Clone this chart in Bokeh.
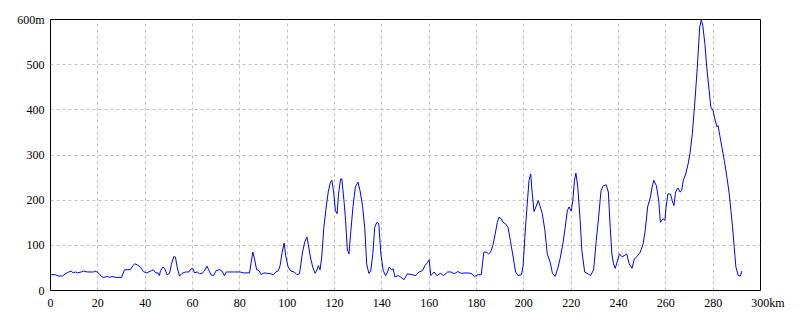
from bokeh.plotting import figure
from bokeh.models import Range1d, FixedTicker
from bokeh.embed import file_html
from bokeh.resources import INLINE

km = [0, 2, 3.5, 5, 6.3, 7.7, 8.7, 9.6, 10.6, 11.5, 13, 14, 15.5, 18.3, 18.7, 19.7,
      20.6, 21.5, 22.5, 24, 25, 26, 27.5, 30, 31.3, 32.4, 33.8, 34.8, 35.6, 36.6, 38,
      39.2, 40.6, 41.5, 42.7, 43.4, 44.4, 45.4, 46, 46.5, 47.5, 48.3, 49.3, 50.3, 51.1,
      52.1, 52.8, 53.5, 54.5, 55.6, 57, 58.5, 59.4, 60.3, 60.8, 62, 63, 64, 65, 66.1,
      66.8, 67.8, 68.9, 70, 71.5, 72.5, 73.5, 74.3, 75.7, 77.4, 80, 81.7, 84.1, 84.8,
      85.5, 86.2, 87.1, 88.1, 89.1, 90.2, 91.6, 93, 94.2, 95.2, 96.3, 97, 97.9, 98.7,
      99.4, 100.4, 101.6, 103, 104.1, 105.2, 105.8, 106.5, 107.5, 108.4, 108.9, 109.8,
      110.8, 111.8, 112.6, 113.2, 113.9, 114.6, 115.5, 116.5, 117.4, 118.3, 118.9,
      119.7, 120.4, 121.1, 121.7, 122.6, 123.1, 124, 124.7, 125.4, 126.1, 126.8, 127.8,
      128.8, 129.9, 130.8, 131.9, 132.8, 133.6, 134.5, 135.3, 136.2, 137, 137.9, 138.7,
      139.6, 140.6, 141.6, 142.4, 143.1, 144.1, 144.8, 145.5, 146.9, 147.9, 149.4,
      150.8, 152.9, 154.3, 155.7, 157.2, 158.2, 159.3, 160, 160.7, 162.1, 163.3, 164.7,
      166.1, 167.8, 169.2, 170.6, 172.1, 173.5, 175.6, 177.7, 179.1, 180.6, 182, 183.1,
      184.1, 185.1, 186, 186.9, 187.9, 188.8, 189.5, 190.5, 191.2, 192.2, 193.3, 194.3,
      195.5, 196.5, 197.6, 199, 199.7, 200.7, 201.5, 202.2, 202.9, 203.5, 204.3, 205.1,
      206.1, 206.8, 207.8, 208.9, 209.9, 211.1, 212.1, 213.2, 214.3, 215.3, 216.5,
      217.4, 218.4, 219.1, 220, 220.7, 221.4, 222, 222.8, 223.8, 224.5, 225.7, 227.1,
      228.2, 229.5, 230.6, 231.6, 232.6, 233.6, 234.8, 235.7, 236.5, 237.2, 237.9,
      238.6, 239.6, 240.4, 241.4, 242.4, 243.5, 244.5, 245.7, 246.7, 247.8, 249.2,
      250.4, 251.3, 252.3, 253.5, 254.2, 254.9, 256, 257, 257.7, 258.9, 259.6, 260.1,
      260.9, 262, 262.7, 263.4, 264.1, 265.1, 266, 266.7, 267.4, 268.4, 269.4, 270.2,
      271.2, 272.2, 273.3, 274.3, 275, 275.6, 276.5, 277.3, 278.3, 279, 279.9, 280.7,
      281.6, 282.1, 282.8, 283.7, 284.7, 285.8, 286.8, 287.5, 288.2, 288.9, 289.6,
      290.6, 291.5, 292.1]
elev = [35, 35, 32, 32, 37, 41, 43, 39, 41, 39, 41, 43, 41, 41, 43, 41,
        37, 31, 29, 31, 29, 31, 29, 29, 46, 46, 46, 55, 59, 57, 52,
        42, 39, 41, 44, 46, 39, 39, 33, 44, 52, 48, 35, 38, 58,
        75, 74, 52, 32, 38, 41, 41, 48, 48, 39, 41, 37, 38, 43, 54,
        46, 35, 33, 44, 46, 43, 33, 41, 41, 41, 41, 39, 39, 63,
        85, 70, 46, 44, 35, 39, 38, 37, 35, 41, 44, 55, 85, 105,
        77, 52, 43, 41, 35, 37, 59, 85, 109, 118, 103, 74,
        52, 38, 46, 55, 46, 74, 140, 185, 220, 240, 244,
        215, 177, 170, 214, 247, 247, 199, 155, 92, 81, 125, 185,
        229, 240, 221, 185, 137, 59, 38, 43, 81, 140, 151, 148,
        81, 44, 33, 41, 52, 46, 48, 30, 33, 30, 24,
        37, 35, 33, 41, 44, 55, 62, 68, 33, 41, 33, 38,
        33, 41, 41, 37, 42, 38, 39, 38, 31, 35, 35, 85,
        85, 81, 85, 100, 125, 151, 162, 159, 151, 148, 140, 111,
        74, 41, 33, 35, 55, 140, 196, 244, 258, 218, 175, 185,
        199, 188, 170, 133, 81, 63, 38, 31, 48, 70, 103,
        137, 177, 185, 176, 199, 244, 260, 229, 155, 89, 41, 37,
        33, 46, 111, 162, 221, 232, 234, 218, 140, 81, 59,
        49, 66, 81, 75, 77, 81, 59, 49, 70, 75, 85,
        103, 133, 185, 207, 229, 244, 232, 199, 151, 159, 155, 185,
        214, 213, 199, 188, 218, 227, 218, 221, 244, 258, 280, 303,
        347, 413, 494, 583, 599, 587, 546, 494, 443, 406, 399, 380,
        362, 365, 343, 317, 288, 251, 214, 177, 140, 96, 52,
        33, 32, 43]

xtick_values = [0, 20, 40, 60, 80, 100, 120, 140, 160, 180, 200, 220, 240, 260, 280, 300]
xtick_labels = ["0", "20", "40", "60", "80", "100", "120", "140", "160", "180", "200",
                "220", "240", "260", "280", "300km"]
ytick_values = [0, 100, 200, 300, 400, 500, 600]
ytick_labels = ["0", "100", "200", "300", "400", "500", "600m"]

FONT = "Liberation Sans Narrow"

p = figure(width=800, height=320, output_backend="svg", toolbar_location=None,
           x_range=Range1d(0, 300), y_range=Range1d(0, 600),
           min_border_left=50, min_border_right=40, min_border_top=19,
           min_border_bottom=30)
p.background_fill_color = "white"
p.border_fill_color = "white"
p.outline_line_color = "black"
p.outline_line_width = 1

p.line(km, elev, line_color="#0000ff", line_width=1)

p.xaxis.ticker = FixedTicker(ticks=xtick_values)
p.yaxis.ticker = FixedTicker(ticks=ytick_values)
xo = {v: l for v, l in zip(xtick_values, xtick_labels)}
# the last label starts at its tick rather than being centred on it
xo[xtick_values[-1]] = "\u00a0" * 5 + xtick_labels[-1]
p.xaxis.major_label_overrides = xo
p.yaxis.major_label_overrides = {v: l for v, l in zip(ytick_values, ytick_labels)}

for ax in (p.xaxis[0], p.yaxis[0]):
    ax.axis_line_color = None
    ax.major_tick_line_color = None
    ax.minor_tick_line_color = None
    ax.major_tick_in = 0
    ax.major_tick_out = 0
    ax.major_label_text_font = FONT
    ax.major_label_text_font_size = "12px"
    ax.major_label_text_color = "black"
p.xaxis.major_label_standoff = 5
p.yaxis.major_label_standoff = 6

for g in (p.xgrid[0], p.ygrid[0]):
    g.grid_line_color = "#c0c0c0"
    g.grid_line_dash = "3 3"
    g.grid_line_width = 1
p.xgrid.ticker = FixedTicker(ticks=xtick_values)
p.ygrid.ticker = FixedTicker(ticks=ytick_values)

open("out.html", "w").write(file_html(p, INLINE))
